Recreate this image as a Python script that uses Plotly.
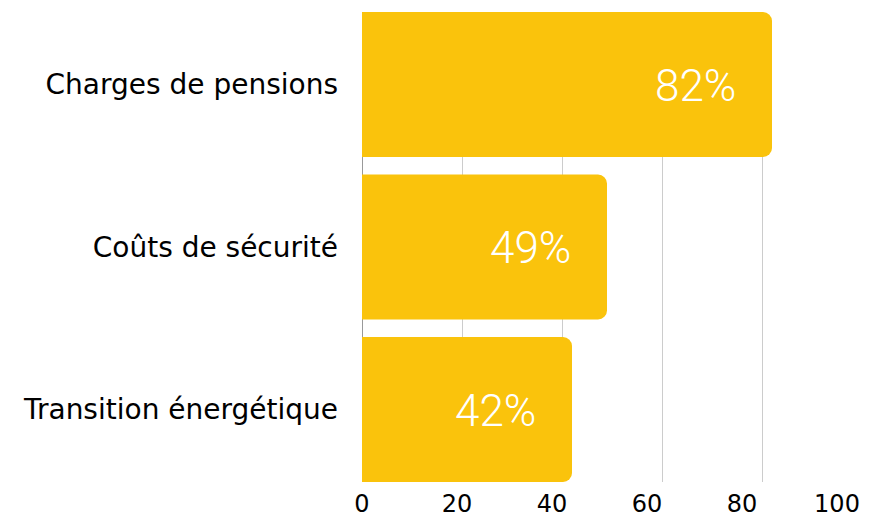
import plotly.graph_objects as go

categories = ["Charges de pensions", "Coûts de sécurité", "Transition énergétique"]
values = [82, 49, 42]
labels = ["82%", "49%", "42%"]
tick_vals = [0, 20, 40, 60, 80, 100]
tick_text = ["0", "20", "40", "60", "80", "100"]

bar_color = "#FAC30C"
gap = 0.1077
label_spread = 0.95  # tick labels in the reference sit slightly left of their gridlines

fig = go.Figure()
fig.add_trace(go.Bar(
    x=values, y=categories, orientation="h",
    marker=dict(color=bar_color, line=dict(width=0)),
    hoverinfo="skip",
))
# invisible helper trace on an overlaid axis carrying the tick labels
fig.add_trace(go.Scatter(
    x=[0, 100], y=[categories[0], categories[0]], xaxis="x2",
    mode="markers", marker=dict(opacity=0), hoverinfo="skip", showlegend=False,
))

for c, v, t in zip(categories, values, labels):
    fig.add_annotation(
        x=v, y=c, xref="x", yref="y", text=t, showarrow=False,
        xanchor="right", yanchor="middle", xshift=-34, yshift=-1,
        font=dict(family="Roboto", size=44, color="white", weight=300),
    )

# page body has an 8px margin, so the figure is sized/shifted to compensate
fig.update_layout(
    width=882, height=510,
    margin=dict(l=354, r=28, t=4, b=36, autoexpand=False),
    paper_bgcolor="white", plot_bgcolor="white",
    barcornerradius=9,
    bargap=gap,
    showlegend=False,
    font=dict(family="DejaVu Sans", color="black"),
    xaxis=dict(
        range=[0, 100], tickvals=tick_vals, showticklabels=False,
        showgrid=True, gridcolor="#CCCCCC", gridwidth=1,
        zeroline=True, zerolinecolor="#999999", zerolinewidth=1,
        ticks="", showline=False, fixedrange=True, automargin=False,
    ),
    xaxis2=dict(
        overlaying="x", side="bottom", anchor="y",
        range=[0, 100],
        tickvals=[v * label_spread for v in tick_vals], ticktext=tick_text,
        showgrid=False, zeroline=False, ticks="", showline=False,
        tickfont=dict(family="DejaVu Sans", size=24, color="black"),
        ticklabelstandoff=5, automargin=False, fixedrange=True,
    ),
    yaxis=dict(
        categoryorder="array", categoryarray=categories[::-1],
        range=[-0.5 + gap / 2, len(categories) - 0.5 - gap / 2],
        tickfont=dict(family="DejaVu Sans", size=28, color="black"),
        ticks="", showline=False, showgrid=False, ticklabelstandoff=23,
        automargin=False, fixedrange=True,
    ),
)

fig.write_html("out.html")
